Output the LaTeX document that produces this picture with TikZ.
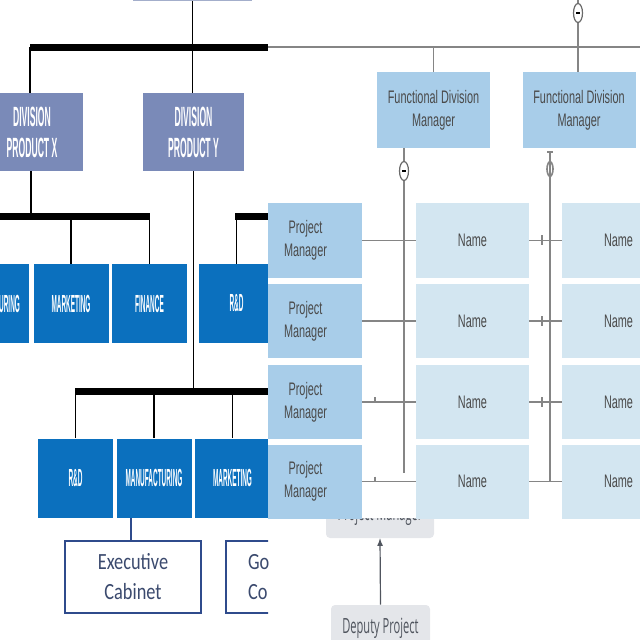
\documentclass[tikz,border=0pt]{standalone}
\usepackage{fontspec}
\usetikzlibrary{shapes.geometric}
\newfontfamily\divfont[FakeStretch=0.31]{Liberation Sans}
\newfontfamily\unitfont[FakeStretch=0.26]{Liberation Sans}
\newfontfamily\cabfont[FakeStretch=0.79]{Carlito}
\newfontfamily\matfont[FakeStretch=0.6]{Liberation Sans}
\newfontfamily\grayfont[FakeStretch=0.53]{Open Sans}
\definecolor{slate}{HTML}{7A8AB8}
\definecolor{slatelt}{HTML}{A3AECB}
\definecolor{unitblue}{HTML}{0B70BE}
\definecolor{cabline}{HTML}{2F4B8C}
\definecolor{cabtext}{HTML}{3B4A6E}
\definecolor{mgrfill}{HTML}{A8CDE9}
\definecolor{namefill}{HTML}{D3E6F1}
\definecolor{matline}{HTML}{858585}
\definecolor{mattext}{HTML}{4A4A4A}
\definecolor{grayfill}{HTML}{E4E6EA}
\definecolor{graytext}{HTML}{50555E}
\begin{document}
\begin{tikzpicture}[x=0.25mm, y=-0.25mm,
    sz/.style 2 args={minimum width=#1*0.25mm, minimum height=#2*0.25mm, inner sep=0pt},
    divbox/.style={fill=slate, text=white, align=center, sz={101}{78},
        font=\divfont\bfseries\fontsize{19.8}{22}\selectfont},
    unitbox/.style={fill=unitblue, text=white, align=center, sz={75}{79},
        font=\unitfont\bfseries\fontsize{17.6}{20}\selectfont},
    cabbox/.style={draw=cabline, line width=0.4mm, fill=white, text=cabtext, align=center,
        sz={136}{72}, font=\cabfont\fontsize{16.5}{21.3}\selectfont},
    bar/.style={line width=1.6mm},
    link/.style={line width=0.35mm},
    mgrbox/.style={fill=mgrfill, text=mattext, align=center, sz={113}{76},
        font=\matfont\fontsize{12.9}{16.3}\selectfont},
    namebox/.style={mgrbox, fill=namefill},
    conn/.style={matline, line width=0.4mm},
    marker/.style={ellipse, draw=matline!80!black, fill=white, line width=0.3mm, sz={9}{19}},
    graybox/.style={fill=grayfill, rounded corners=1mm, text=graytext,
        font=\grayfont\fontsize{14.9}{18}\selectfont}]
\useasboundingbox (0,0) rectangle (640,640);

\begin{scope}
  \clip (0,0) rectangle (268,640);
  \node[fill=slatelt, sz={119}{40}] (top) at (192.5,-19) {};
  \node[divbox] (divX) at (32,132) {DIVISION\\PRODUCT X};
  \node[divbox] (divY) at (193.5,132) {DIVISION\\PRODUCT Y};
  \coordinate (b1l) at (30,47.5);
  \coordinate (b1r) at (300,47.5);
  \draw[bar] (b1l) -- (b1r);
  \draw[link] (top.south) -- (top.south |- divY.north);
  \draw[link] (divX.north -| b1l) -- (b1l);

  \node[unitbox] (mfgA) at (-8.5,303.5) {MANUFACTURING};
  \node[unitbox] (mktA) at (71,303.5) {MARKETING};
  \node[unitbox] (finA) at (149.5,303.5) {FINANCE};
  \node[unitbox] (rdA) at (236.5,303.5) {R\&D};
  \coordinate (b2l) at (-10,216.5);
  \coordinate (b2r) at (150,216.5);
  \coordinate (b2s) at (235,216.5);
  \draw[bar] (b2l) -- (b2r);
  \draw[bar] (b2s) -- (300,216.5);
  \draw[link] ([xshift=-0.25mm]divX.south) -- ([xshift=-0.25mm]divX.south |- b2l);
  \foreach \n in {mktA, finA, rdA}
    \draw[link] (\n.north) -- (\n.north |- b2l);

  \node[unitbox] (rdB) at (75.5,478) {R\&D};
  \node[unitbox] (mfgB) at (154,478) {MANUFACTURING};
  \node[unitbox] (mktB) at (232.5,478) {MARKETING};
  \coordinate (b3l) at (75,391.5);
  \draw[bar] (b3l) -- (300,391.5);
  \draw[link] (divY.south) -- (divY.south |- b3l);
  \foreach \n in {rdB, mfgB, mktB}
    \draw[link] (\n.north) -- (\n.north |- b3l);

  \node[cabbox] (exec) at (133,577) {Executive\\Cabinet};
  \node[cabbox, align=left, text width=23mm, inner xsep=5.5mm] (gov) at (294,577) {Go\\Co};
  \draw[cabline, line width=0.35mm] ([xshift=-0.5mm]exec.north) -- ([xshift=-0.5mm]exec.north |- mfgB.south);
\end{scope}

\begin{scope}
  \clip (268,518) rectangle (640,640);
  \node[graybox, sz={108}{46}] (pmg) at (380,515) {Project Manager};
  \node[graybox, sz={99}{46}] (dep) at (380.5,628) {Deputy Project};
  \draw[-latex, graytext, line width=0.3mm] (dep.north) -- (pmg.south);
\end{scope}

\begin{scope}
  \clip (268,0) rectangle (640,518);
  \fill[white] (268,0) rectangle (640,518);
  \coordinate (hl) at (268,47.5);
  \coordinate (hr) at (640,47.5);
  \draw[conn, line width=0.5mm] (hl) -- (hr);
  \node[mgrbox] (fdm1) at (433.5,110) {Functional Division\\Manager};
  \node[mgrbox] (fdm2) at (579,110) {Functional Division\\Manager};
  \coordinate (tp) at (578,-5);
  \draw[conn] (fdm1.north) -- (fdm1.north |- hl);
  \draw[conn] (fdm2.north -| tp) -- (tp);
  \node[marker] (mk0) at (578,13) {};
  \draw[line width=0.4mm] ([xshift=-0.5mm]mk0.center) -- ([xshift=0.5mm]mk0.center);

  \foreach \r/\y in {1/240.5, 2/321, 3/402, 4/481.5} {
    \node[mgrbox, sz={113}{74}] (pm\r) at (305.5,\y) {Project\\Manager};
    \node[namebox, sz={113}{74}] (na\r) at (472.5,\y) {Name};
    \node[namebox, sz={113}{74}] (nb\r) at (618.5,\y) {Name};
    \draw[conn] (pm\r) -- (na\r);
    \draw[conn] (na\r) -- (nb\r);
  }
  \foreach \r in {1,2,3}
    \draw[conn] ([shift={(13,-5)}]na\r.east) -- ([shift={(13,5)}]na\r.east);
  \foreach \r in {3,4}
    \draw[conn] ([shift={(13,-5)}]pm\r.east) -- ([shift={(13,0)}]pm\r.east);

  \coordinate (v1) at (404,473);
  \coordinate (v2) at (550,482);
  \draw[conn] (fdm1.south -| v1) -- (v1);
  \draw[conn] ([yshift=-1mm]fdm2.south -| v2) -- (v2);
  \draw[conn] (547,152) -- (553,152);
  \node[marker] (mk1) at (404,171) {};
  \draw[line width=0.4mm] ([xshift=-0.5mm]mk1.center) -- ([xshift=0.5mm]mk1.center);
  \draw[conn] (549.6,176.5) arc[start angle=110, end angle=250, x radius=4, y radius=8];
  \draw[conn] (550.4,161.5) arc[start angle=-70, end angle=70, x radius=4, y radius=8];
\end{scope}
\end{tikzpicture}
\end{document}
